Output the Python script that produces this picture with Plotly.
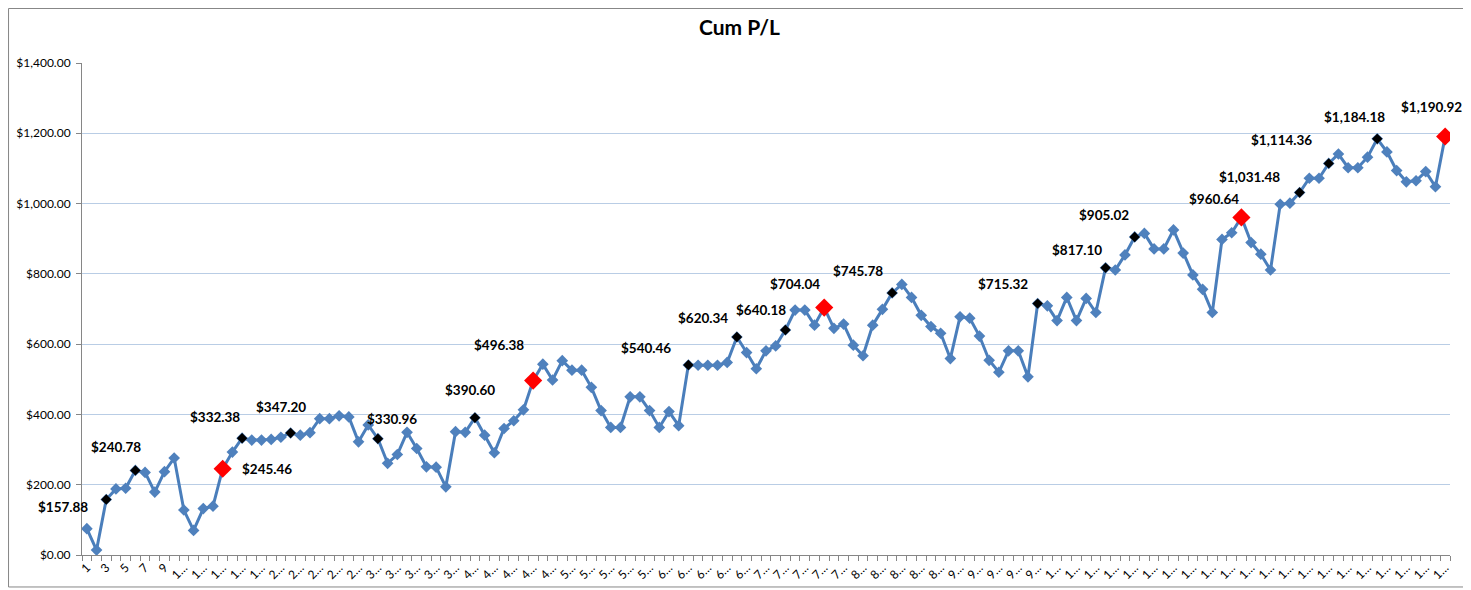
import plotly.graph_objects as go

# cumulative P/L per trade
trade_no = list(range(1, 142))
cum_pl = [75, 14, 157.88, 188, 190, 240.78, 235, 179, 237, 276,
          128, 70, 132, 139, 245.46, 293, 332.38, 327, 327, 329,
          335, 347.20, 341, 348, 388, 388, 396, 393, 322, 370,
          330.96, 261, 286, 349, 303, 251, 250, 194, 351, 349,
          390.60, 341, 291, 360, 382, 413, 496.38, 543, 498, 553,
          526, 526, 477, 411, 363, 363, 450, 450, 411, 363,
          408, 368, 540.46, 540, 540, 540, 548, 620.34, 576, 530,
          581, 595, 640.18, 697, 697, 654, 704.04, 645, 657, 597,
          567, 654, 699, 745.78, 770, 733, 682, 650, 631, 559,
          678, 674, 623, 554, 520, 581, 581, 507, 715.32, 709,
          667, 733, 667, 730, 690, 817.10, 811, 854, 905.02, 915,
          871, 871, 925, 859, 797, 756, 690, 898, 917, 960.64,
          889, 856, 811, 998, 1001, 1031.48, 1072, 1072, 1114.36, 1141,
          1102, 1102, 1132, 1184.18, 1147, 1094, 1062, 1065, 1091, 1048,
          1190.92]

black_pts = [3, 6, 17, 22, 31, 41, 63, 68, 73, 84, 99, 106, 109, 126, 129, 134]
red_pts = [15, 47, 77, 120, 141]

# label offsets in px (dx right, dy down) for each marked trade
label_offsets = {
    3: (-43, 7), 6: (-19, -23), 15: (44, 0), 17: (-27, -21), 22: (-10, -26),
    31: (14, -20), 41: (-5, -28), 47: (-34, -36), 63: (-42, -17), 68: (-34, -19),
    73: (-24, -20), 77: (-29, -24), 84: (-34, -22), 99: (-35, -20), 106: (-29, -18),
    109: (-31, -22), 120: (-27, -18), 126: (-50, -16), 129: (-47, -23),
    134: (-23, -22), 141: (-14, -29),
}

tick_vals = trade_no[::2]
tick_text = [str(n) if n < 10 else str(n)[0] + "…" for n in tick_vals]

fig = go.Figure()

fig.add_trace(go.Scatter(
    x=trade_no, y=cum_pl, mode="lines+markers",
    line=dict(color="#4A7EBB", width=3),
    marker=dict(symbol="diamond", size=9, color="#4F81BD"),
    showlegend=False, hoverinfo="x+y"
))

fig.add_trace(go.Scatter(
    x=black_pts, y=[cum_pl[i - 1] for i in black_pts], mode="markers",
    marker=dict(symbol="diamond", size=8, color="black"),
    showlegend=False
))

fig.add_trace(go.Scatter(
    x=red_pts, y=[cum_pl[i - 1] for i in red_pts], mode="markers",
    marker=dict(symbol="diamond", size=14, color="#FF0000"),
    showlegend=False
))

for idx, (dx, dy) in label_offsets.items():
    v = cum_pl[idx - 1]
    fig.add_annotation(
        x=idx, y=v, text=f"${v:,.2f}", showarrow=False,
        xshift=dx, yshift=-dy,
        font=dict(family="Lato", size=13.5, color="black", weight="bold")
    )

# page body has an 8px margin, so the figure is a bit smaller than the window
fig.update_layout(
    title=dict(text="<b>Cum P/L</b>", x=0.5, xanchor="center", y=0.9656, yanchor="middle",
               font=dict(family="Lato", size=21, color="black")),
    width=1463, height=582,
    margin=dict(l=74, r=21, t=55, b=35),
    plot_bgcolor="white", paper_bgcolor="white",
    font=dict(family="Lato", size=12, color="black"),
    xaxis=dict(
        range=[0.5, 141.5], tickmode="array", tickvals=tick_vals, ticktext=tick_text,
        tickangle=-45, ticks="", showgrid=False, zeroline=False, automargin=False,
        showline=True, linecolor="#868686", linewidth=1,
        tickfont=dict(size=12),
        minor=dict(tick0=0.5, dtick=1, ticks="outside", ticklen=5, tickcolor="#868686", showgrid=False),
    ),
    yaxis=dict(
        range=[0, 1400], dtick=200, tickformat="$,.2f", automargin=False,
        ticks="outside", ticklen=5, tickcolor="#868686",
        showgrid=True, gridcolor="#B9CDE5", gridwidth=1, zeroline=False,
        showline=True, linecolor="#868686", linewidth=1,
        tickfont=dict(size=12), ticklabelstandoff=3,
    ),
    shapes=[dict(type="rect", xref="paper", yref="paper",
                 x0=-0.0537, x1=1.0124, y0=-0.065, y1=1.1108,
                 line=dict(color="#868686", width=1), layer="below")],
)

fig.write_html("out.html")
